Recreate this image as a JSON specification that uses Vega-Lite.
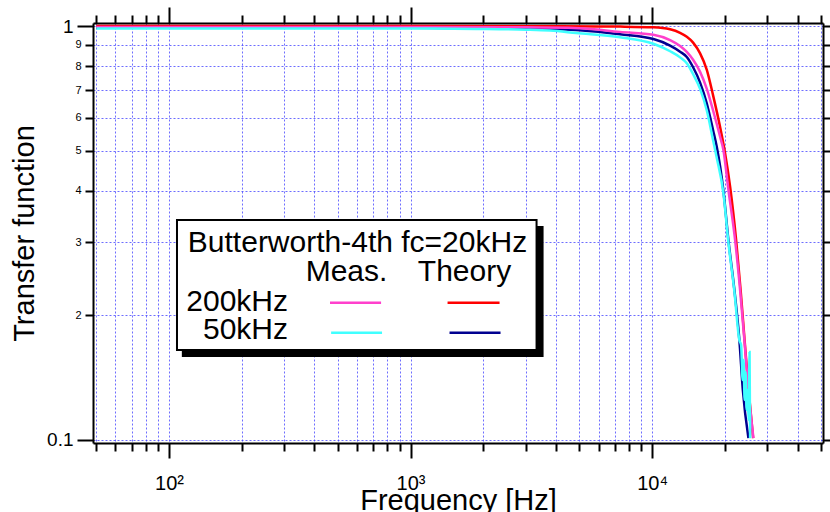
{
  "$schema": "https://vega.github.io/schema/vega-lite/v6.json",
  "width": 730,
  "height": 420,
  "autosize": {"type": "none"},
  "padding": {"left": 93, "top": 23, "right": 7, "bottom": 69},
  "background": "white",
  "config": {"view": {"stroke": null}, "font": "Liberation Sans"},
  "datasets": {
    "curves": [
      {"s": "Theory 200kHz", "f": 50, "v": 1.0},
      {"s": "Theory 200kHz", "f": 1000, "v": 1.0},
      {"s": "Theory 200kHz", "f": 3000, "v": 0.999},
      {"s": "Theory 200kHz", "f": 6000, "v": 0.998},
      {"s": "Theory 200kHz", "f": 7370, "v": 0.997},
      {"s": "Theory 200kHz", "f": 10125, "v": 0.993},
      {"s": "Theory 200kHz", "f": 11872, "v": 0.982},
      {"s": "Theory 200kHz", "f": 13057, "v": 0.963},
      {"s": "Theory 200kHz", "f": 13920, "v": 0.942},
      {"s": "Theory 200kHz", "f": 14785, "v": 0.912},
      {"s": "Theory 200kHz", "f": 15803, "v": 0.859},
      {"s": "Theory 200kHz", "f": 16847, "v": 0.784},
      {"s": "Theory 200kHz", "f": 17886, "v": 0.68},
      {"s": "Theory 200kHz", "f": 19124, "v": 0.57},
      {"s": "Theory 200kHz", "f": 20061, "v": 0.492},
      {"s": "Theory 200kHz", "f": 21040, "v": 0.409},
      {"s": "Theory 200kHz", "f": 22280, "v": 0.304},
      {"s": "Theory 200kHz", "f": 23255, "v": 0.23},
      {"s": "Theory 200kHz", "f": 24155, "v": 0.174},
      {"s": "Theory 200kHz", "f": 25097, "v": 0.132},
      {"s": "Theory 200kHz", "f": 26197, "v": 0.101},
      {"s": "Theory 50kHz", "f": 50, "v": 0.99},
      {"s": "Theory 50kHz", "f": 1000, "v": 0.99},
      {"s": "Theory 50kHz", "f": 3000, "v": 0.986},
      {"s": "Theory 50kHz", "f": 3870, "v": 0.984},
      {"s": "Theory 50kHz", "f": 5000, "v": 0.977},
      {"s": "Theory 50kHz", "f": 7370, "v": 0.955},
      {"s": "Theory 50kHz", "f": 10125, "v": 0.93},
      {"s": "Theory 50kHz", "f": 11872, "v": 0.897},
      {"s": "Theory 50kHz", "f": 13057, "v": 0.867},
      {"s": "Theory 50kHz", "f": 13920, "v": 0.842},
      {"s": "Theory 50kHz", "f": 14785, "v": 0.795},
      {"s": "Theory 50kHz", "f": 15803, "v": 0.73},
      {"s": "Theory 50kHz", "f": 16847, "v": 0.65},
      {"s": "Theory 50kHz", "f": 17886, "v": 0.56},
      {"s": "Theory 50kHz", "f": 18530, "v": 0.51},
      {"s": "Theory 50kHz", "f": 19733, "v": 0.4},
      {"s": "Theory 50kHz", "f": 20697, "v": 0.304},
      {"s": "Theory 50kHz", "f": 21918, "v": 0.23},
      {"s": "Theory 50kHz", "f": 22987, "v": 0.174},
      {"s": "Theory 50kHz", "f": 23750, "v": 0.132},
      {"s": "Theory 50kHz", "f": 25050, "v": 0.101},
      {"s": "Meas. 200kHz", "f": 50, "v": 0.995},
      {"s": "Meas. 200kHz", "f": 1000, "v": 0.995},
      {"s": "Meas. 200kHz", "f": 3000, "v": 0.993},
      {"s": "Meas. 200kHz", "f": 5000, "v": 0.988},
      {"s": "Meas. 200kHz", "f": 7370, "v": 0.968},
      {"s": "Meas. 200kHz", "f": 10125, "v": 0.953},
      {"s": "Meas. 200kHz", "f": 11872, "v": 0.925},
      {"s": "Meas. 200kHz", "f": 13057, "v": 0.895},
      {"s": "Meas. 200kHz", "f": 13920, "v": 0.866},
      {"s": "Meas. 200kHz", "f": 14785, "v": 0.829},
      {"s": "Meas. 200kHz", "f": 15803, "v": 0.775},
      {"s": "Meas. 200kHz", "f": 16847, "v": 0.705},
      {"s": "Meas. 200kHz", "f": 17886, "v": 0.625},
      {"s": "Meas. 200kHz", "f": 19124, "v": 0.54},
      {"s": "Meas. 200kHz", "f": 19733, "v": 0.502},
      {"s": "Meas. 200kHz", "f": 20700, "v": 0.402},
      {"s": "Meas. 200kHz", "f": 22064, "v": 0.304},
      {"s": "Meas. 200kHz", "f": 23141, "v": 0.23},
      {"s": "Meas. 200kHz", "f": 24109, "v": 0.174},
      {"s": "Meas. 200kHz", "f": 25050, "v": 0.132},
      {"s": "Meas. 200kHz", "f": 26275, "v": 0.101},
      {"s": "Meas. 50kHz", "f": 50, "v": 0.987},
      {"s": "Meas. 50kHz", "f": 1000, "v": 0.986},
      {"s": "Meas. 50kHz", "f": 1867, "v": 0.984},
      {"s": "Meas. 50kHz", "f": 3008, "v": 0.98},
      {"s": "Meas. 50kHz", "f": 3781, "v": 0.975},
      {"s": "Meas. 50kHz", "f": 4846, "v": 0.962},
      {"s": "Meas. 50kHz", "f": 7370, "v": 0.94},
      {"s": "Meas. 50kHz", "f": 10125, "v": 0.906},
      {"s": "Meas. 50kHz", "f": 11872, "v": 0.869},
      {"s": "Meas. 50kHz", "f": 13057, "v": 0.84},
      {"s": "Meas. 50kHz", "f": 13920, "v": 0.813},
      {"s": "Meas. 50kHz", "f": 14785, "v": 0.765},
      {"s": "Meas. 50kHz", "f": 15803, "v": 0.705},
      {"s": "Meas. 50kHz", "f": 16847, "v": 0.625},
      {"s": "Meas. 50kHz", "f": 17886, "v": 0.53},
      {"s": "Meas. 50kHz", "f": 18530, "v": 0.48},
      {"s": "Meas. 50kHz", "f": 19733, "v": 0.395},
      {"s": "Meas. 50kHz", "f": 20697, "v": 0.3},
      {"s": "Meas. 50kHz", "f": 21918, "v": 0.228},
      {"s": "Meas. 50kHz", "f": 22987, "v": 0.174},
      {"s": "Meas. 50kHz", "f": 23365, "v": 0.1696},
      {"s": "Meas. 50kHz", "f": 23700, "v": 0.1396},
      {"s": "Meas. 50kHz", "f": 23929, "v": 0.1561},
      {"s": "Meas. 50kHz", "f": 24155, "v": 0.1249},
      {"s": "Meas. 50kHz", "f": 24390, "v": 0.146},
      {"s": "Meas. 50kHz", "f": 24620, "v": 0.1181},
      {"s": "Meas. 50kHz", "f": 24855, "v": 0.132},
      {"s": "Meas. 50kHz", "f": 25097, "v": 0.1117},
      {"s": "Meas. 50kHz", "f": 25330, "v": 0.1632},
      {"s": "Meas. 50kHz", "f": 25455, "v": 0.101}
    ],
    "legendLines": [
      {"s": "Meas. 200kHz", "f1": 464, "f2": 755, "v": 0.2146},
      {"s": "Theory 200kHz", "f1": 1423, "f2": 2336, "v": 0.2146},
      {"s": "Meas. 50kHz", "f1": 469, "f2": 762, "v": 0.1816},
      {"s": "Theory 50kHz", "f1": 1450, "f2": 2358, "v": 0.1816}
    ],
    "legendCenter": [
      {"t": "Butterworth-4th fc=20kHz", "f": 603, "v": 0.2844},
      {"t": "Meas.", "f": 543, "v": 0.2421},
      {"t": "Theory", "f": 1673, "v": 0.2421}
    ],
    "legendRight": [
      {"t": "200kHz", "f": 311, "v": 0.2053},
      {"t": "50kHz", "f": 311, "v": 0.1751}
    ],
    "shadow": [{"f1": 113, "f2": 3554, "v1": 0.3288, "v2": 0.1587}],
    "box": [{"f1": 107.9, "f2": 3324, "v1": 0.34, "v2": 0.165}]
  },
  "layer": [
    {
      "data": {"name": "shadow"},
      "mark": {"type": "rect", "fill": "black"},
      "encoding": {
        "x": {"field": "f1", "type": "quantitative", "scale": {"type": "log", "domain": [48.45, 51000], "nice": false},
          "axis": {
            "orient": "top", "labels": false, "grid": false, "title": null,
            "values": [50,60,70,80,90,100,200,300,400,500,600,700,800,900,1000,2000,3000,4000,5000,6000,7000,8000,9000,10000,20000,30000,40000,50000],
            "tickSize": {"condition": {"test": "datum.value == 100 || datum.value == 1000 || datum.value == 10000", "value": 16}, "value": 8},
            "tickColor": "black", "tickWidth": 2, "domainColor": "black", "domainWidth": 2
          }},
        "x2": {"field": "f2"},
        "y": {"field": "v1", "type": "quantitative", "scale": {"type": "log", "domain": [0.0983, 1.017], "nice": false},
          "axis": {
            "orient": "right", "labels": false, "grid": false, "title": null,
            "values": [0.1,0.2,0.3,0.4,0.5,0.6,0.7,0.8,0.9,1],
            "tickSize": {"condition": {"test": "datum.value == 1 || datum.value == 0.1", "value": 16}, "value": 8},
            "tickColor": "black", "tickWidth": 2, "domainColor": "black", "domainWidth": 2
          }},
        "y2": {"field": "v2"}
      }
    },
    {
      "data": {"name": "box"},
      "mark": {"type": "rect", "fill": "white", "stroke": "black", "strokeWidth": 2},
      "encoding": {
        "x": {"field": "f1", "type": "quantitative", "scale": {"type": "log", "domain": [48.45, 51000], "nice": false}, "axis": null},
        "x2": {"field": "f2"},
        "y": {"field": "v1", "type": "quantitative", "scale": {"type": "log", "domain": [0.0983, 1.017], "nice": false}, "axis": null},
        "y2": {"field": "v2"}
      }
    },
    {
      "data": {"name": "legendLines"},
      "mark": {"type": "rule", "strokeWidth": 2.5},
      "encoding": {
        "x": {"field": "f1", "type": "quantitative", "scale": {"type": "log", "domain": [48.45, 51000], "nice": false}, "axis": null},
        "x2": {"field": "f2"},
        "y": {"field": "v", "type": "quantitative", "scale": {"type": "log", "domain": [0.0983, 1.017], "nice": false}, "axis": null},
        "color": {"field": "s", "type": "nominal", "legend": null,
          "scale": {"domain": ["Theory 200kHz", "Theory 50kHz", "Meas. 200kHz", "Meas. 50kHz"], "range": ["#ff0000", "#000090", "#ff40cc", "#40ffff"]}}
      }
    },
    {
      "data": {"name": "legendCenter"},
      "mark": {"type": "text", "align": "center", "baseline": "alphabetic", "fontSize": 30, "color": "black", "font": "Liberation Sans"},
      "encoding": {
        "x": {"field": "f", "type": "quantitative", "scale": {"type": "log", "domain": [48.45, 51000], "nice": false}, "axis": null},
        "y": {"field": "v", "type": "quantitative", "scale": {"type": "log", "domain": [0.0983, 1.017], "nice": false}, "axis": null},
        "text": {"field": "t"}
      }
    },
    {
      "data": {"name": "legendRight"},
      "mark": {"type": "text", "align": "right", "baseline": "alphabetic", "fontSize": 30, "color": "black", "font": "Liberation Sans"},
      "encoding": {
        "x": {"field": "f", "type": "quantitative", "scale": {"type": "log", "domain": [48.45, 51000], "nice": false}, "axis": null},
        "y": {"field": "v", "type": "quantitative", "scale": {"type": "log", "domain": [0.0983, 1.017], "nice": false}, "axis": null},
        "text": {"field": "t"}
      }
    },
    {
      "data": {"name": "curves"},
      "mark": {"type": "line", "strokeWidth": 2.5, "clip": true, "interpolate": "monotone"},
      "encoding": {
        "x": {"field": "f", "type": "quantitative", "scale": {"type": "log", "domain": [48.45, 51000], "nice": false},
          "axis": {
            "orient": "bottom",
            "values": [50,60,70,80,90,100,200,300,400,500,600,700,800,900,1000,2000,3000,4000,5000,6000,7000,8000,9000,10000,20000,30000,40000,50000],
            "labelExpr": "datum.value == 100 ? '10²' : datum.value == 1000 ? '10³' : datum.value == 10000 ? '10⁴' : ''",
            "tickSize": {"condition": {"test": "datum.value == 100 || datum.value == 1000 || datum.value == 10000", "value": 15}, "value": 8},
            "labelFontSize": 20, "labelPadding": 15, "labelColor": "black", "labelFont": "Liberation Sans",
            "labelOverlap": false, "labelFlush": false, "labelBound": false,
            "grid": true, "gridColor": "#4848ff", "gridOpacity": 0.8, "gridDash": [2, 2], "gridWidth": 1,
            "tickColor": "black", "tickWidth": 2, "domainColor": "black", "domainWidth": 2,
            "title": "Frequency [Hz]", "titleFontSize": 29, "titleFontWeight": "normal", "titleColor": "black", "titleFont": "Liberation Sans",
            "titleBaseline": "alphabetic", "titleY": 66
          }},
        "y": {"field": "v", "type": "quantitative", "scale": {"type": "log", "domain": [0.0983, 1.017], "nice": false},
          "axis": {
            "orient": "left",
            "values": [0.1,0.2,0.3,0.4,0.5,0.6,0.7,0.8,0.9,1],
            "labelExpr": "datum.value == 1 ? '1' : datum.value == 0.1 ? '0.1' : '' + round(datum.value * 10)",
            "labelFontSize": {"condition": {"test": "datum.value == 1 || datum.value == 0.1", "value": 19}, "value": 11},
            "tickSize": {"condition": {"test": "datum.value == 1 || datum.value == 0.1", "value": 16}, "value": 8},
            "labelPadding": 4, "labelColor": "black", "labelFont": "Liberation Sans",
            "labelOverlap": false, "labelFlush": false, "labelBound": false,
            "grid": true, "gridColor": "#4848ff", "gridOpacity": 0.8, "gridDash": [2, 2], "gridWidth": 1,
            "tickColor": "black", "tickWidth": 2, "domainColor": "black", "domainWidth": 2,
            "title": "Transfer function", "titleFontSize": 29, "titleFontWeight": "normal", "titleColor": "black", "titleFont": "Liberation Sans",
            "titleAngle": -90, "titleBaseline": "alphabetic", "titleAlign": "center", "titleX": -60, "titleY": 210
          }},
        "color": {"field": "s", "type": "nominal", "legend": null,
          "scale": {"domain": ["Theory 200kHz", "Theory 50kHz", "Meas. 200kHz", "Meas. 50kHz"], "range": ["#ff0000", "#000090", "#ff40cc", "#40ffff"]}}
      }
    }
  ],
  "resolve": {"axis": {"x": "independent", "y": "independent"}}
}
